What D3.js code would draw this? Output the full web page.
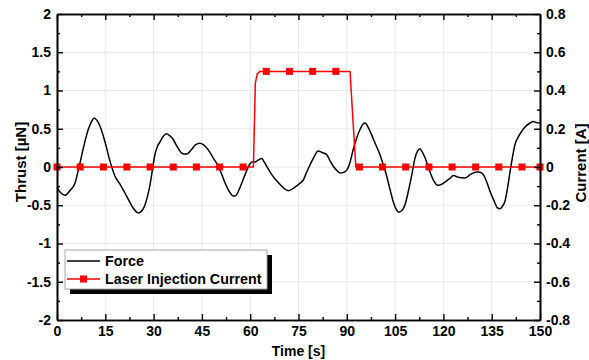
<!DOCTYPE html>
<html><head><meta charset="utf-8">
<script src="https://cdn.jsdelivr.net/npm/d3@7"></script>
<style>
body{margin:0;background:#fff;}
svg{display:block;}
text{font-family:Arial,"Liberation Sans",sans-serif;font-weight:bold;fill:#000;}
</style></head>
<body><svg id="chart" width="589" height="360"></svg>
<script>
// ---- data ----
const forceTime = [0,1,2.5,4,5.6,6.8,8.2,9.7,10.8,11.5,12.4,13.4,14.9,16.5,18,19.5,21.1,22.5,23.7,25.3,26.2,27.1,28,28.9,29.7,30.4,31.2,32,33,34,35,36.1,37,38,38.7,39.5,40.3,41.8,43,44.4,45.5,46.5,47.5,48.5,50.1,51.2,52.2,53.5,54.8,55.6,56.3,57.3,58.4,59.9,60.8,61.5,62.5,63.6,64.3,65.1,66.7,68,69.3,70.5,71.8,73,74,75.5,76.5,77.5,78.6,79.8,81.1,82.3,83.8,84.8,85.8,87,87.9,89,90,91,92,93,94.1,95,95.7,96.6,97.7,99,100.3,101.4,102.4,103.4,104.4,105.3,106.2,107.1,108.1,109.1,110.2,111.2,112,112.7,113.5,114.3,115.8,117,118.4,119.7,121,122,123.1,124.6,126.7,128.3,130.3,131.4,132.4,133.5,134.5,135.7,136.7,137.6,138.4,139.1,139.9,140.7,141.5,142.2,143.2,144.3,145.5,146.9,147.9,149,150];
const forceThrust = [-0.27,-0.33,-0.37,-0.31,-0.21,-0.01,0.25,0.49,0.60,0.64,0.61,0.53,0.33,0.07,-0.12,-0.22,-0.34,-0.45,-0.54,-0.60,-0.58,-0.52,-0.40,-0.23,-0.02,0.16,0.27,0.33,0.40,0.435,0.41,0.36,0.29,0.22,0.18,0.17,0.17,0.23,0.29,0.31,0.29,0.25,0.19,0.12,0.01,-0.10,-0.21,-0.32,-0.38,-0.37,-0.32,-0.22,-0.10,0.04,0.07,0.065,0.09,0.11,0.07,0.01,-0.10,-0.17,-0.23,-0.28,-0.31,-0.29,-0.26,-0.21,-0.17,-0.07,0.03,0.13,0.21,0.19,0.16,0.08,0.01,-0.05,-0.08,-0.07,-0.04,0.06,0.23,0.37,0.49,0.56,0.575,0.52,0.42,0.29,0.16,0.02,-0.12,-0.29,-0.45,-0.55,-0.59,-0.57,-0.49,-0.32,-0.10,0.12,0.21,0.24,0.19,0.12,-0.06,-0.18,-0.24,-0.22,-0.18,-0.15,-0.11,-0.135,-0.145,-0.10,-0.065,-0.07,-0.10,-0.20,-0.32,-0.44,-0.53,-0.545,-0.51,-0.45,-0.28,-0.06,0.14,0.29,0.39,0.465,0.53,0.575,0.595,0.58,0.575];
const currentTime = [0,7.2,14.4,21.7,28.9,36.1,43.3,50.5,57.8,61.0,61.6,62.2,63.0,65.0,72.2,79.4,86.6,91.0,92.8,93.9,101.1,108.3,115.5,122.7,130.0,137.2,144.4,150];
const currentAmp  = [0,0,0,0,0,0,0,0,0,0,0.44,0.487,0.5,0.5,0.5,0.5,0.5,0.5,0,0,0,0,0,0,0,0,0,0];
const markerTime = [0,7.2,14.4,21.7,28.9,36.1,43.3,50.5,57.8,65.0,72.2,79.4,86.6,93.9,101.1,108.3,115.5,122.7,130.0,137.2,144.4,150];
const markerAmp  = [0,0,0,0,0,0,0,0,0,0.5,0.5,0.5,0.5,0,0,0,0,0,0,0,0,0];
const xTicks = [0,15,30,45,60,75,90,105,120,135,150];
const yLeftTicks = [-2,-1.5,-1,-0.5,0,0.5,1,1.5,2];
const yRightTicks = [-0.8,-0.6,-0.4,-0.2,0,0.2,0.4,0.6,0.8];
const legendLabels = ["Force","Laser Injection Current"];

// ---- layout ----
const L=57, R=540, T=14, B=320;
const svg = d3.select("#chart");
const x = d3.scaleLinear().domain([0,150]).range([L,R]);
const yL = d3.scaleLinear().domain([-2,2]).range([B,T]);
const yR = d3.scaleLinear().domain([-0.8,0.8]).range([B,T]);

// grid
const g = svg.append("g");
g.selectAll("line.gx").data(xTicks.slice(1,-1)).join("line")
  .attr("x1",d=>x(d)).attr("x2",d=>x(d)).attr("y1",T).attr("y2",B)
  .attr("stroke","#e8e8e8").attr("stroke-width",1);
g.selectAll("line.gy").data(yLeftTicks.slice(1,-1)).join("line")
  .attr("y1",d=>yL(d)).attr("y2",d=>yL(d)).attr("x1",L).attr("x2",R)
  .attr("stroke","#e8e8e8").attr("stroke-width",1);

// force line
const forceData = forceTime.map((t,i)=>[t,forceThrust[i]]);
svg.append("path").datum(forceData)
  .attr("fill","none").attr("stroke","#000").attr("stroke-width",1.5)
  .attr("stroke-linejoin","round")
  .attr("d", d3.line().x(d=>x(d[0])).y(d=>yL(d[1])).curve(d3.curveMonotoneX));

// current line
const curData = currentTime.map((t,i)=>[t,currentAmp[i]]);
svg.append("path").datum(curData)
  .attr("fill","none").attr("stroke","#ff0000").attr("stroke-width",1.5)
  .attr("stroke-linejoin","round")
  .attr("d", d3.line().x(d=>x(d[0])).y(d=>yR(d[1])));
const mk = markerTime.map((t,i)=>[t,markerAmp[i]]);
svg.selectAll("rect.mk").data(mk).join("rect")
  .attr("x",d=>x(d[0])-3.5).attr("y",d=>yR(d[1])-3.5)
  .attr("width",7).attr("height",7).attr("fill","#ff0000");

// axes
const fmt = d=>String(d);
function styleAxis(sel){
  sel.selectAll("path.domain").attr("stroke","#000").attr("stroke-width",1.6);
  sel.selectAll(".tick line").attr("stroke","#000").attr("stroke-width",1.4);
  sel.selectAll("text").style("font-size","14px").style("font-family","Arial, 'Liberation Sans', sans-serif").style("font-weight","bold");
}
const minorX = d3.range(7.5,150,15);
const minorYL = d3.range(-1.75,2,0.5);
const minorYR = d3.range(-0.7,0.8,0.2);

// bottom
svg.append("g").attr("transform",`translate(0,${B})`)
  .call(d3.axisBottom(x).tickValues(xTicks).tickFormat(fmt).tickSize(-6).tickSizeOuter(0).tickPadding(6)).call(styleAxis);
svg.append("g").attr("transform",`translate(0,${B})`)
  .call(d3.axisBottom(x).tickValues(minorX).tickFormat("").tickSize(-3).tickSizeOuter(0)).call(styleAxis);
// top
svg.append("g").attr("transform",`translate(0,${T})`)
  .call(d3.axisTop(x).tickValues(xTicks).tickFormat("").tickSize(-6).tickSizeOuter(0)).call(styleAxis);
svg.append("g").attr("transform",`translate(0,${T})`)
  .call(d3.axisTop(x).tickValues(minorX).tickFormat("").tickSize(-3).tickSizeOuter(0)).call(styleAxis);
// left
svg.append("g").attr("transform",`translate(${L},0)`)
  .call(d3.axisLeft(yL).tickValues(yLeftTicks).tickFormat(fmt).tickSize(-6).tickSizeOuter(0).tickPadding(6)).call(styleAxis);
svg.append("g").attr("transform",`translate(${L},0)`)
  .call(d3.axisLeft(yL).tickValues(minorYL).tickFormat("").tickSize(-3).tickSizeOuter(0)).call(styleAxis);
// right
svg.append("g").attr("transform",`translate(${R},0)`)
  .call(d3.axisRight(yR).tickValues(yRightTicks).tickFormat(fmt).tickSize(-6).tickSizeOuter(0).tickPadding(6)).call(styleAxis);
svg.append("g").attr("transform",`translate(${R},0)`)
  .call(d3.axisRight(yR).tickValues(minorYR).tickFormat("").tickSize(-3).tickSizeOuter(0)).call(styleAxis);

// axis titles
svg.append("text").attr("x",(L+R)/2).attr("y",356).attr("text-anchor","middle").style("font-size","14px").text("Time [s]");
svg.append("text").attr("transform","translate(26,162) rotate(-90)").attr("text-anchor","middle").style("font-size","15px").text("Thrust [µN]");
svg.append("text").attr("transform","translate(586,163) rotate(-90)").attr("text-anchor","middle").style("font-size","15px").text("Current [A]");

// legend
const lg = svg.append("g");
lg.append("rect").attr("x",70).attr("y",255).attr("width",202).attr("height",39).attr("fill","#000");
lg.append("rect").attr("x",65).attr("y",250).attr("width",202).attr("height",39).attr("fill","#fff").attr("stroke","#a8a8a8").attr("stroke-width",1);
lg.append("line").attr("x1",67).attr("x2",100).attr("y1",261).attr("y2",261).attr("stroke","#000").attr("stroke-width",1.5);
lg.append("line").attr("x1",67).attr("x2",100).attr("y1",279).attr("y2",279).attr("stroke","#ff0000").attr("stroke-width",1.5);
lg.append("rect").attr("x",80).attr("y",275.5).attr("width",7).attr("height",7).attr("fill","#ff0000");
lg.selectAll("text.lg").data(legendLabels).join("text")
  .attr("x",105).attr("y",(d,i)=>266+i*18).style("font-size","14.3px").text(d=>d);
</script></body></html>
